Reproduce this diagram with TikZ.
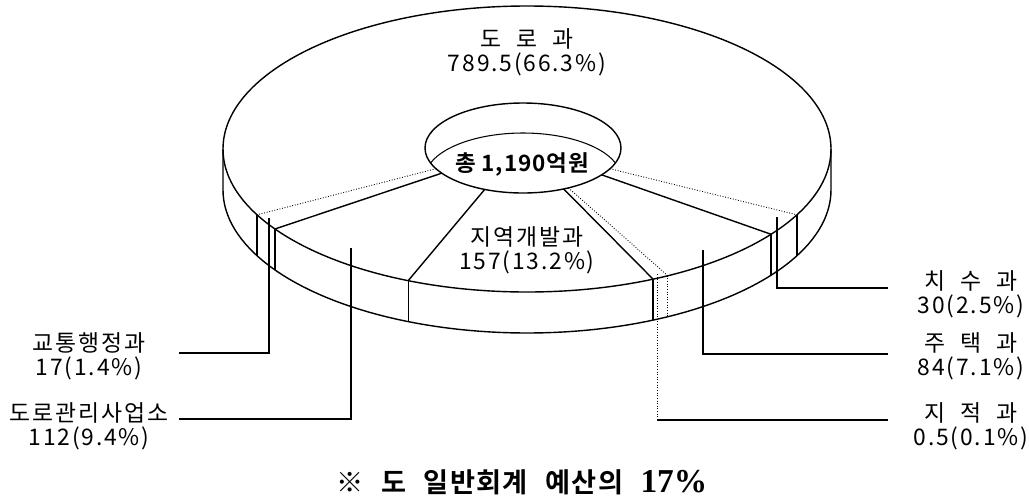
\documentclass[tikz,border=0pt]{standalone}
\usepackage{fontspec}
\usepackage{tikz}
\usetikzlibrary{calc}
\newfontfamily\kfont[LetterSpace=8, WordSpace=2.1]{Noto Sans CJK KR}
\newfontfamily\kboldfont[LetterSpace=4]{Noto Sans CJK KR Bold}
\newfontfamily\titlefont[LetterSpace=5, WordSpace=2.3]{Noto Sans CJK KR Bold}
\newfontfamily\titlelatin{Liberation Serif}
\tikzset{rim/.style = {line width=0.8pt},
         seam/.style = {line width=0.8pt},
         faint/.style = {line width=0.5pt, densely dotted},
         lead/.style = {line width=0.6pt},
         lbl/.style = {align=center, inner sep=0pt,
                       font=\kfont\fontsize{13}{13.7}\selectfont},
         heading/.style = {inner sep=0pt,
                           font=\titlefont\fontsize{15.5}{17}\selectfont}}

\begin{document}
\begin{tikzpicture}[x=0.02cm, y=-0.02cm]
      \useasboundingbox (0, 0) rectangle (1029, 498);
      \draw [rim] (527, 149) ellipse [x radius=304, y radius=143];
      \draw [rim] (223, 149) -- (223, 190) -- plot [domain=180:0, samples=90] ({527+304*cos(\x)}, {190+143*sin(\x)}) -- (831, 149);

      \draw [rim] (523, 148) ellipse [x radius=98, y radius=45];
      \draw [lead] plot [domain=-160.5:-19.5, samples=60] ({523+98*cos(\x)}, {178+45*sin(\x)});

      \foreach \t/\r/\v in {27.4/faint/seam, 36.6/seam/seam, 62.4/faint/faint, 65.5/seam/seam,
                            113/seam/lead, 146/seam/seam, 152.6/faint/seam} {
        \draw [\r] ({523+98*cos(\t)}, {148+45*sin(\t)}) -- ({527+304*cos(\t)}, {149+143*sin(\t)});
        \draw [\v] ({527+304*cos(\t)}, {149+143*sin(\t)}) -- ++(0, 41);
      }

      \node [lbl] (doro) at (527, 52) {도 로 과\\789.5(66.3\%)};
      \node [lbl] (jiyeok) at (527, 250) {지역개발과\\157(13.2\%)};
      \node [inner sep=0pt, font=\kboldfont\fontsize{12.8}{13.7}\selectfont] (total) at (522, 164) {총 1,190억원};

      \node [lbl] (kyotong) at (89, 356) {교통행정과\\17(1.4\%)};
      \node [lbl] (dorogwanri) at (89, 426) {도로관리사업소\\112(9.4\%)};
      \node [lbl] (chisu) at (971, 294) {치 수 과\\30(2.5\%)};
      \node [lbl] (jutaek) at (971, 356) {주 택 과\\84(7.1\%)};
      \node [lbl] (jijeok) at (971, 426) {지 적 과\\0.5(0.1\%)};

      \coordinate (kyotongTop) at (269, 218);
      \coordinate (kyotongEnd) at (179, 353);
      \coordinate (dorogwanriTop) at (351, 248);
      \coordinate (dorogwanriEnd) at (179, 419);
      \coordinate (chisuTop) at (777, 217);
      \coordinate (chisuEnd) at (888, 288);
      \coordinate (jutaekTop) at (703, 250);
      \coordinate (jutaekEnd) at (888, 354);
      \coordinate (jijeokTop) at (657, 274);
      \coordinate (jijeokEnd) at (888, 420);

      \draw [lead] (kyotongTop) |- (kyotongEnd);
      \draw [lead] (dorogwanriTop) |- (dorogwanriEnd);
      \draw [lead] (chisuTop) |- (chisuEnd);
      \draw [lead] (jutaekTop) |- (jutaekEnd);
      \draw [faint] (jijeokTop) -- (jijeokTop |- jijeokEnd);
      \draw [lead] (jijeokTop |- jijeokEnd) -- (jijeokEnd);

      \node [heading] (note) at (522, 482) {※ 도 일반회계 예산의 {\titlelatin\bfseries\fontsize{19}{20}\selectfont 17\%}};
    \end{tikzpicture}
\end{document}
